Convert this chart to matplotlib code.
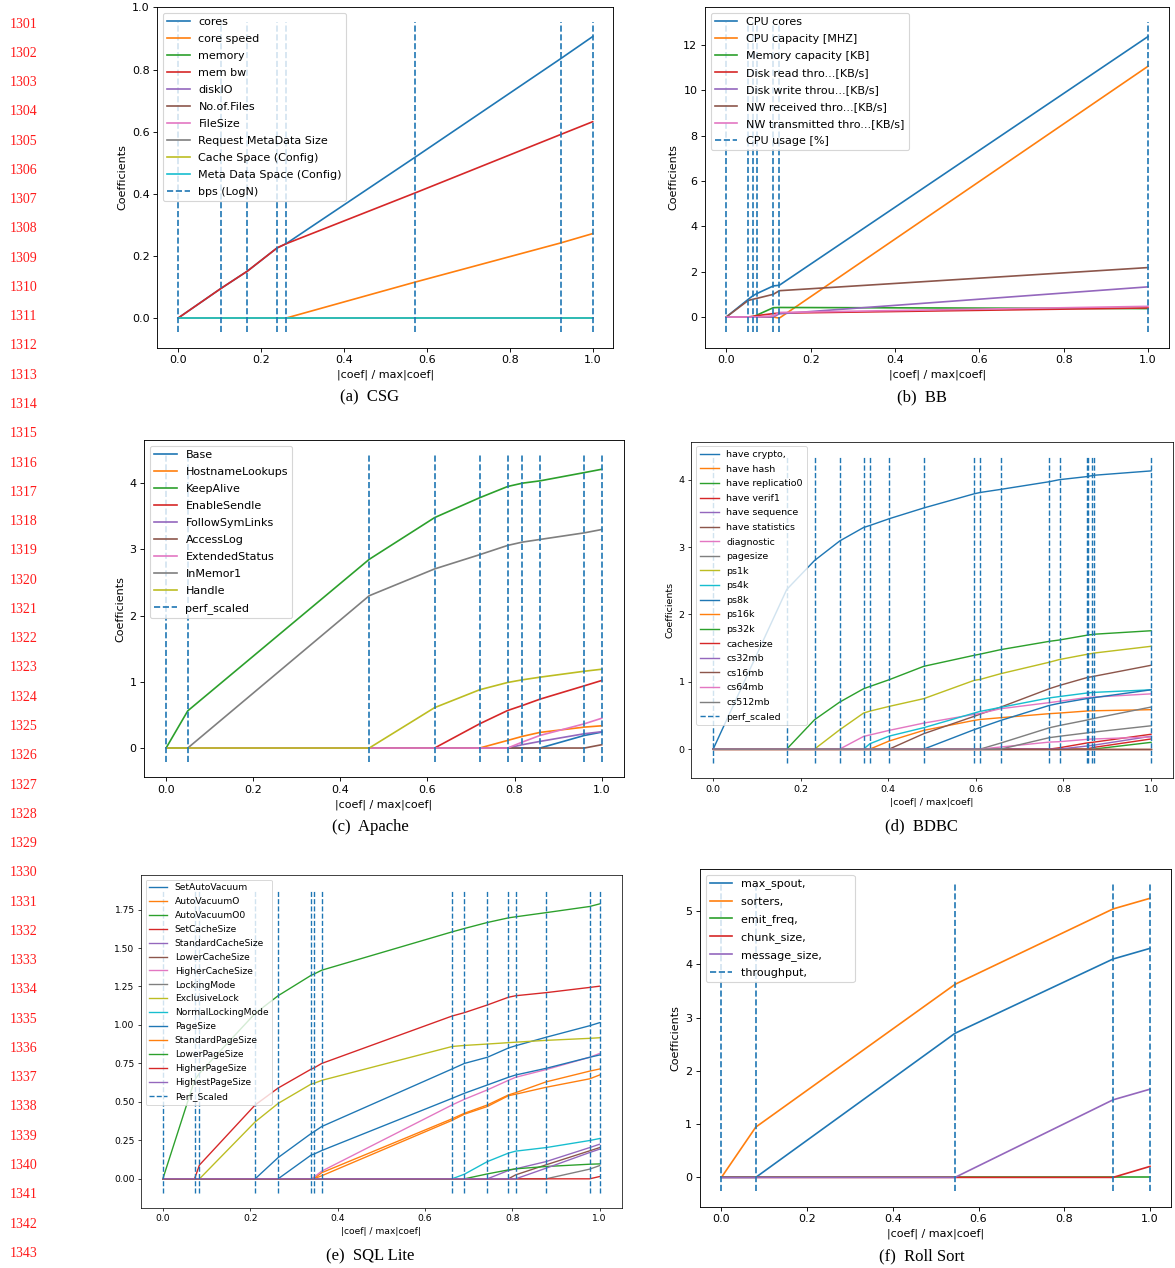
import matplotlib
matplotlib.use("Agg")
import matplotlib.pyplot as plt

# ---------------- data ----------------
# (a) CSG
csg_x = [0, 0.104, 0.167, 0.239, 0.260, 0.572, 0.923, 1.0]
csg_names = ["cores", "core speed", "memory", "mem bw", "diskIO", "No.of.Files",
             "FileSize", "Request MetaData Size", "Cache Space (Config)",
             "Meta Data Space (Config)"]
csg_target = "bps (LogN)"
csg_coefs = [
    [0, 0.096, 0.151, 0.226, 0.239, 0.518, 0.835, 0.906],
    [0, 0, 0, 0, 0, 0.116, 0.242, 0.272],
    [0, 0, 0, 0, 0, 0, 0, 0],
    [0, 0.096, 0.151, 0.226, 0.239, 0.403, 0.591, 0.632],
    [0, 0, 0, 0, 0, 0, 0, 0],
    [0, 0, 0, 0, 0, 0, 0, 0],
    [0, 0, 0, 0, 0, 0, 0, 0],
    [0, 0, 0, 0, 0, 0, 0, 0],
    [0, 0, 0, 0, 0, 0, 0, 0],
    [0, 0, 0, 0, 0, 0, 0, 0],
]

# (b) BB
bb_x = [0, 0.052, 0.0626, 0.072, 0.1115, 0.1257, 1.0]
bb_names = ["CPU cores", "CPU capacity [MHZ]", "Memory capacity [KB]",
            "Disk read thro...[KB/s]", "Disk write throu...[KB/s]",
            "NW received thro...[KB/s]", "NW transmitted thro...[KB/s]"]
bb_target = "CPU usage [%]"
bb_coefs = [
    [0, 0.78, 0.93, 1.03, 1.37, 1.40, 12.37],
    [0, 0, 0, 0, 0, -0.05, 11.06],
    [0, 0, 0, 0.08, 0.41, 0.42, 0.37],
    [0, 0, 0.03, 0.06, 0.15, 0.17, 0.40],
    [0, 0, 0, 0, 0, 0.14, 1.33],
    [0, 0.73, 0.78, 0.82, 1.00, 1.16, 2.18],
    [0, 0, 0, 0, 0.05, 0.20, 0.47],
]

# (c) Apache
ap_x = [0, 0.0498, 0.4663, 0.6164, 0.7198, 0.7841, 0.8178, 0.8583, 0.9602, 1.0]
ap_names = ["Base", "HostnameLookups", "KeepAlive", "EnableSendle", "FollowSymLinks",
            "AccessLog", "ExtendedStatus", "InMemor1", "Handle"]
ap_target = "perf_scaled"
ap_coefs = [
    [0, 0, 0, 0, 0, 0, 0, 0, 0.19, 0.24],
    [0, 0, 0, 0, 0, 0.115, 0.176, 0.236, 0.316, 0.336],
    [0, 0.562, 2.85, 3.48, 3.78, 3.95, 4.00, 4.035, 4.16, 4.21],
    [0, 0, 0, 0, 0.366, 0.567, 0.642, 0.738, 0.94, 1.02],
    [0, 0, 0, 0, 0, 0, 0.05, 0.10, 0.216, 0.246],
    [0, 0, 0, 0, 0, 0, 0, 0, 0, 0.05],
    [0, 0, 0, 0, 0, 0, 0.09, 0.19, 0.366, 0.45],
    [0, 0, 2.30, 2.705, 2.92, 3.06, 3.11, 3.15, 3.25, 3.30],
    [0, 0, 0, 0.61, 0.88, 0.99, 1.03, 1.07, 1.16, 1.19],
]

# (d) BDBC
bd_x = [0, 0.168, 0.2315, 0.289, 0.3435, 0.358, 0.402, 0.481, 0.596, 0.610,
        0.657, 0.768, 0.791, 0.853, 0.856, 0.866, 0.869, 1.0]
bd_names = ["have crypto,", "have hash", "have replicatio0", "have verif1",
            "have sequence", "have statistics", "diagnostic", "pagesize", "ps1k",
            "ps4k", "ps8k", "ps16k", "ps32k", "cachesize", "cs32mb", "cs16mb",
            "cs64mb", "cs512mb"]
bd_target = "perf_scaled"
bd_coefs = [
    [0, 2.37, 2.80, 3.09, 3.29, 3.32, 3.42, 3.58, 3.79, 3.81, 3.856, 3.97, 4.0, 4.045, 4.05, 4.06, 4.065, 4.13],
    [0, 0, 0, 0, 0, 0, 0.12, 0.278, 0.426, 0.44, 0.466, 0.526, 0.535, 0.565, 0.566, 0.568, 0.569, 0.585],
    [0, 0, 0, 0, 0, 0, 0, 0, 0, 0, 0, 0, 0, 0, 0, 0, 0, 0.10],
    [0, 0, 0, 0, 0, 0, 0, 0, 0, 0, 0, 0, 0, 0, 0.005, 0.02, 0.025, 0.15],
    [0, 0, 0, 0, 0, 0, 0, 0, 0, 0, 0, 0, 0, 0, 0, 0, 0, 0],
    [0, 0, 0, 0, 0, 0, 0, 0.229, 0.486, 0.52, 0.624, 0.897, 0.945, 1.06, 1.065, 1.075, 1.08, 1.244],
    [0, 0, 0, 0, 0.188, 0.21, 0.278, 0.386, 0.515, 0.53, 0.60, 0.69, 0.71, 0.764, 0.766, 0.77, 0.772, 0.82],
    [0, 0, 0, 0, 0, 0, 0, 0, 0, 0, 0.09, 0.317, 0.35, 0.43, 0.435, 0.45, 0.455, 0.624],
    [0, 0, 0, 0.287, 0.535, 0.564, 0.634, 0.749, 1.02, 1.035, 1.12, 1.29, 1.33, 1.406, 1.41, 1.42, 1.425, 1.526],
    [0, 0, 0, 0, 0, 0.08, 0.193, 0.318, 0.535, 0.56, 0.62, 0.76, 0.78, 0.832, 0.834, 0.84, 0.842, 0.88],
    [0, 0, 0, 0, 0, 0, 0, 0, 0.288, 0.32, 0.426, 0.649, 0.68, 0.749, 0.752, 0.76, 0.763, 0.88],
    [0, 0, 0, 0, 0, 0, 0, 0, 0, 0, 0, 0, 0, 0, 0, 0, 0, 0],
    [0, 0, 0.436, 0.698, 0.896, 0.93, 1.03, 1.229, 1.392, 1.41, 1.477, 1.60, 1.62, 1.69, 1.695, 1.70, 1.705, 1.757],
    [0, 0, 0, 0, 0, 0, 0, 0, 0, 0, 0, 0, 0.02, 0.09, 0.093, 0.10, 0.103, 0.22],
    [0, 0, 0, 0, 0, 0, 0, 0, 0, 0, 0, 0, 0, 0.045, 0.048, 0.055, 0.058, 0.19],
    [0, 0, 0, 0, 0, 0, 0, 0, 0, 0, 0, 0, 0, 0, 0, 0, 0, 0],
    [0, 0, 0, 0, 0, 0, 0, 0, 0, 0, 0.031, 0.104, 0.11, 0.144, 0.145, 0.15, 0.15, 0.18],
    [0, 0, 0, 0, 0, 0, 0, 0, 0, 0, 0, 0.17, 0.19, 0.24, 0.245, 0.25, 0.252, 0.346],
]

# (e) SQL Lite
sq_x = [0, 0.0725, 0.0839, 0.2113, 0.2639, 0.3402, 0.3455, 0.3638, 0.6621,
        0.6903, 0.7429, 0.791, 0.8078, 0.8772, 0.9771, 1.0]
sq_names = ["SetAutoVacuum", "AutoVacuumO", "AutoVacuumO0", "SetCacheSize",
            "StandardCacheSize", "LowerCacheSize", "HigherCacheSize", "LockingMode",
            "ExclusiveLock", "NormalLockingMode", "PageSize", "StandardPageSize",
            "LowerPageSize", "HigherPageSize", "HighestPageSize"]
sq_target = "Perf_Scaled"
sq_coefs = [
    [0, 0, 0, 0, 0.138, 0.296, 0.305, 0.34, 0.714, 0.75, 0.79, 0.85, 0.865, 0.92, 0.995, 1.015],
    [0, 0, 0, 0, 0, 0, 0, 0.04, 0.39, 0.426, 0.48, 0.545, 0.56, 0.63, 0.70, 0.714],
    [0, 0.64, 0.686, 1.075, 1.19, 1.324, 1.33, 1.356, 1.605, 1.627, 1.666, 1.696, 1.703, 1.73, 1.77, 1.787],
    [0, 0, 0.09, 0.48, 0.59, 0.714, 0.72, 0.75, 1.058, 1.08, 1.13, 1.18, 1.19, 1.21, 1.244, 1.252],
    [0, 0, 0, 0, 0, 0, 0, 0, 0, 0, 0, 0.054, 0.065, 0.112, 0.203, 0.225],
    [0, 0, 0, 0, 0, 0, 0, 0, 0, 0, 0, 0, 0.026, 0.091, 0.182, 0.203],
    [0, 0, 0, 0, 0, 0, 0.01, 0.05, 0.48, 0.517, 0.578, 0.64, 0.66, 0.71, 0.79, 0.815],
    [0, 0, 0, 0, 0, 0, 0, 0, 0, 0, 0, 0, 0, 0, 0.063, 0.086],
    [0, 0, 0, 0.37, 0.49, 0.617, 0.62, 0.64, 0.86, 0.867, 0.876, 0.885, 0.888, 0.90, 0.913, 0.917],
    [0, 0, 0, 0, 0, 0, 0, 0, 0, 0.03, 0.112, 0.167, 0.18, 0.203, 0.249, 0.262],
    [0, 0, 0, 0, 0, 0.156, 0.16, 0.184, 0.523, 0.556, 0.61, 0.66, 0.675, 0.718, 0.79, 0.805],
    [0, 0, 0, 0, 0, 0, 0, 0.02, 0.38, 0.42, 0.47, 0.54, 0.55, 0.595, 0.65, 0.675],
    [0, 0, 0, 0, 0, 0, 0, 0, 0, 0, 0.032, 0.058, 0.065, 0.08, 0.095, 0.097],
    [0, 0, 0, 0, 0, 0, 0, 0, 0, 0, 0, 0, 0, 0, 0, 0.015],
    [0, 0, 0, 0, 0, 0, 0, 0, 0, 0, 0, 0, 0, 0.069, 0.171, 0.193],
]

# (f) Roll Sort
rs_x = [0, 0.0801, 0.5451, 0.9137, 1.0]
rs_names = ["max_spout,\u2002\u2002\u2002\u2002\u2002",
            "sorters,\u2002\u2002\u2002\u2002\u2002",
            "emit_freq,\u2002\u2002\u2002\u2002\u2002",
            "chunk_size,\u2002\u2002\u2002\u2002\u2002",
            "message_size,\u2002\u2002\u2002\u2002\u2002"]
rs_target = "throughput,\u2002\u2002\u2002\u2002\u2002"
rs_coefs = [
    [0, 0, 2.706, 4.10, 4.30],
    [0, 0.944, 3.625, 5.04, 5.24],
    [0, 0, 0, 0, 0],
    [0, 0, 0, 0, 0.206],
    [0, 0, 0, 1.456, 1.656],
]

line_numbers = list(range(1301, 1344))

# ---------------- drawing ----------------
W, H = 1175, 1268
fig = plt.figure(figsize=(W / 100, H / 100), dpi=100)


def draw_panel(rect, xx, names, coefs, target, caption, cap_x, cap_y, s,
               spacing, ylabel=True):
    l, t, r, b = rect
    ax = fig.add_axes([l / W, 1 - b / H, (r - l) / W, (b - t) / H])
    lw = 1.5 * s
    for name, c in zip(names, coefs):
        ax.plot(xx, c, lw=lw, label=name)
    ymin, ymax = ax.get_ylim()
    ax.vlines(xx, ymin, ymax, linestyles="dashed", linewidth=lw, label=target)
    fs = 10 * s
    ax.set_xlabel("|coef| / max|coef|", fontsize=fs, labelpad=4 * s)
    if ylabel:
        ax.set_ylabel("Coefficients", fontsize=fs, labelpad=4 * s)
    ax.tick_params(labelsize=fs, length=3.5 * s, width=0.8 * s, pad=3.5 * s)
    for sp in ax.spines.values():
        sp.set_linewidth(0.8 * s)
    leg = ax.legend(loc="upper left", fontsize=fs, labelspacing=spacing)
    leg.get_frame().set_linewidth(1.0 * s)
    fig.text(cap_x / W, 1 - cap_y / H, caption, ha="center", va="center",
             family="Liberation Serif", fontsize=12)
    return ax


draw_panel((157.3, 7, 613.4, 347.7), csg_x, csg_names, csg_coefs, csg_target,
           "(a)  CSG", 370, 397.7, 0.8, 0.63)
draw_panel((705.2, 7, 1169.1, 347.7), bb_x, bb_names, bb_coefs, bb_target,
           "(b)  BB", 921.7, 397.7, 0.8, 0.63)
draw_panel((144.3, 440, 623.5, 777.3), ap_x, ap_names, ap_coefs, ap_target,
           "(c)  Apache", 370, 826.7, 0.8, 0.63)
draw_panel((691.3, 441.7, 1172.9, 778.3), bd_x, bd_names, bd_coefs, bd_target,
           "(d)  BDBC", 921.7, 826.7, 0.68, 0.59)
draw_panel((141, 875, 621.5, 1207.7), sq_x, sq_names, sq_coefs, sq_target,
           "(e)  SQL Lite", 370, 1256.7, 0.655, 0.54, ylabel=False)
draw_panel((700, 869, 1171.4, 1206.7), rs_x, rs_names, rs_coefs, rs_target,
           "(f)  Roll Sort", 921.7, 1256.7, 0.8, 0.63)

for i, n in enumerate(line_numbers):
    y = 24 + i * 29.27
    fig.text(10 / W, 1 - y / H, str(n), ha="left", va="center",
             family="Liberation Serif", fontsize=10, color="#ff1a1a")

fig.savefig("out.png", dpi=100)
